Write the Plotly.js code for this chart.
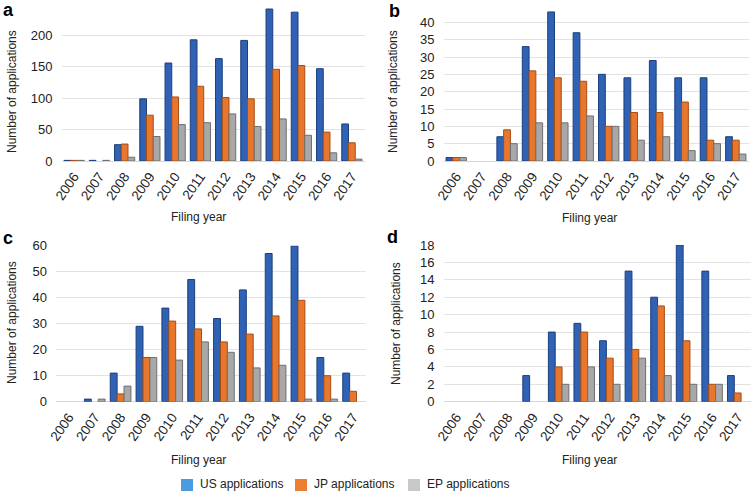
<!DOCTYPE html>
<html>
<head>
<meta charset="utf-8">
<script src="https://cdn.plot.ly/plotly-3.0.1.min.js"></script>
<style>html,body{margin:0;padding:0;background:#fff}#chart{width:756px;height:494px}</style>
</head>
<body>
<div id="chart"></div>
<script>
const years = ['2006','2007','2008','2009','2010','2011','2012','2013','2014','2015','2016','2017'];

const usA = [1, 1, 26, 99, 156, 193, 163, 192, 242, 237, 147, 59];
const jpA = [1, 0, 27, 73, 102, 119, 101, 99, 146, 152, 46, 29];
const epA = [1, 1, 6, 39, 58, 61, 75, 55, 67, 41, 13, 3];

const usB = [1, 0, 7, 33, 43, 37, 25, 24, 29, 24, 24, 7];
const jpB = [1, 0, 9, 26, 24, 23, 10, 14, 14, 17, 6, 6];
const epB = [1, 0, 5, 11, 11, 13, 10, 6, 7, 3, 5, 2];

const usC = [0, 1, 11, 29, 36, 47, 32, 43, 57, 60, 17, 11];
const jpC = [0, 0, 3, 17, 31, 28, 23, 26, 33, 39, 10, 4];
const epC = [0, 1, 6, 17, 16, 23, 19, 13, 14, 1, 1, 0];

const usD = [0, 0, 0, 3, 8, 9, 7, 15, 12, 18, 15, 3];
const jpD = [0, 0, 0, 0, 4, 8, 5, 6, 11, 7, 2, 1];
const epD = [0, 0, 0, 0, 2, 4, 2, 5, 3, 2, 2, 0];

const seriesNames = ['US applications', 'JP applications', 'EP applications'];
const barColors = ['#2f62b4', '#e8762d', '#a8a8a8'];
const barEdges = ['#1d3f7c', '#a44f16', '#6f6f6f'];
const legendColors = ['#4b9be0', '#ed7d31', '#c8c8c8'];

const panels = [
  {data: [usA, jpA, epA], xa: 'x', ya: 'y'},
  {data: [usB, jpB, epB], xa: 'x2', ya: 'y2'},
  {data: [usC, jpC, epC], xa: 'x3', ya: 'y3'},
  {data: [usD, jpD, epD], xa: 'x4', ya: 'y4'}
];

const traces = [];
panels.forEach(p => {
  p.data.forEach((vals, i) => {
    traces.push({
      type: 'bar', x: years, y: vals, xaxis: p.xa, yaxis: p.ya,
      name: seriesNames[i], showlegend: false,
      marker: {color: barColors[i],
        line: {color: barEdges[i], width: vals.map(v => v > 0 ? 1 : 0)}}
    });
  });
});

const W = 756, H = 494;
const xd = (a, b) => [a / W, b / W];
const yd = (top, bottom) => [1 - bottom / H, 1 - top / H];

const FAM = 'Liberation Sans, Arial, sans-serif';
const tickFont = {family: FAM, size: 13, color: '#222'};
function xaxis(dom, anchor) {
  return {domain: dom, anchor: anchor, type: 'category', tickangle: -55,
    tickfont: {family: FAM, size: 13.5, color: '#222'}, ticklabelstandoff: 4,
    showgrid: false, showline: false, zeroline: false, ticks: '',
    fixedrange: true};
}
function yaxis(dom, anchor, range, dtick) {
  return {domain: dom, anchor: anchor, range: range, dtick: dtick, tickfont: tickFont,
    gridcolor: '#e3e3e3', gridwidth: 1, zeroline: true, zerolinecolor: '#d6d6d6',
    showline: false, ticks: '', ticklabelstandoff: 8, fixedrange: true};
}

const titleFont = {family: FAM, size: 12, color: '#222'};
const letterFont = {family: FAM, size: 18, color: '#000', weight: 'bold'};

function ann(text, x, y, font, rot, xanchor) {
  const a = {text: text, x: x / W, y: 1 - y / H, xref: 'paper', yref: 'paper',
    showarrow: false, font: font, xanchor: xanchor || 'center', yanchor: 'middle'};
  if (rot) a.textangle = rot;
  return a;
}

// custom legend (swatches + labels)
const legendX = [181, 295, 408];
const legendShapes = seriesNames.map((n, i) => ({
  type: 'rect', xref: 'paper', yref: 'paper',
  x0: legendX[i] / W, x1: (legendX[i] + 12) / W,
  y0: 1 - 491 / H, y1: 1 - 479 / H,
  fillcolor: legendColors[i], line: {width: 0}
}));
const legendAnns = seriesNames.map((n, i) =>
  ann(n, legendX[i] + 17, 484, {family: FAM, size: 12, color: '#222'}, 0, 'left'));

const layout = {
  width: W, height: H,
  margin: {l: 0, r: 0, t: 0, b: 0},
  paper_bgcolor: '#fff', plot_bgcolor: '#fff',
  barmode: 'group', bargap: 0.2, bargroupgap: 0,
  showlegend: false,
  xaxis: xaxis(xd(61.5, 364.5), 'y'),
  yaxis: yaxis(yd(4, 161), 'x', [0, 250], 50),
  xaxis2: xaxis(xd(443.5, 748.5), 'y2'),
  yaxis2: yaxis(yd(5, 161), 'x2', [0, 45], 5),
  xaxis3: xaxis(xd(56, 366), 'y3'),
  yaxis3: yaxis(yd(245.7, 401.7), 'x3', [0, 60], 10),
  xaxis4: xaxis(xd(443.5, 750.5), 'y4'),
  yaxis4: yaxis(yd(245, 401.7), 'x4', [0, 18], 2),
  shapes: legendShapes,
  annotations: [
    ann('a', 8, 10, letterFont), ann('b', 394, 11, letterFont),
    ann('c', 8, 238, letterFont), ann('d', 392, 237, letterFont),
    ann('Number of applications', 12, 92, titleFont, -90),
    ann('Number of applications', 393, 92, titleFont, -90),
    ann('Number of applications', 12, 323, titleFont, -90),
    ann('Number of applications', 396, 324, titleFont, -90),
    ann('Filing year', 198, 217, titleFont), ann('Filing year', 589, 218, titleFont),
    ann('Filing year', 198, 460, titleFont), ann('Filing year', 589, 460, titleFont)
  ].concat(legendAnns)
};

Plotly.newPlot('chart', traces, layout, {displayModeBar: false, staticPlot: true});
</script>
</body>
</html>
